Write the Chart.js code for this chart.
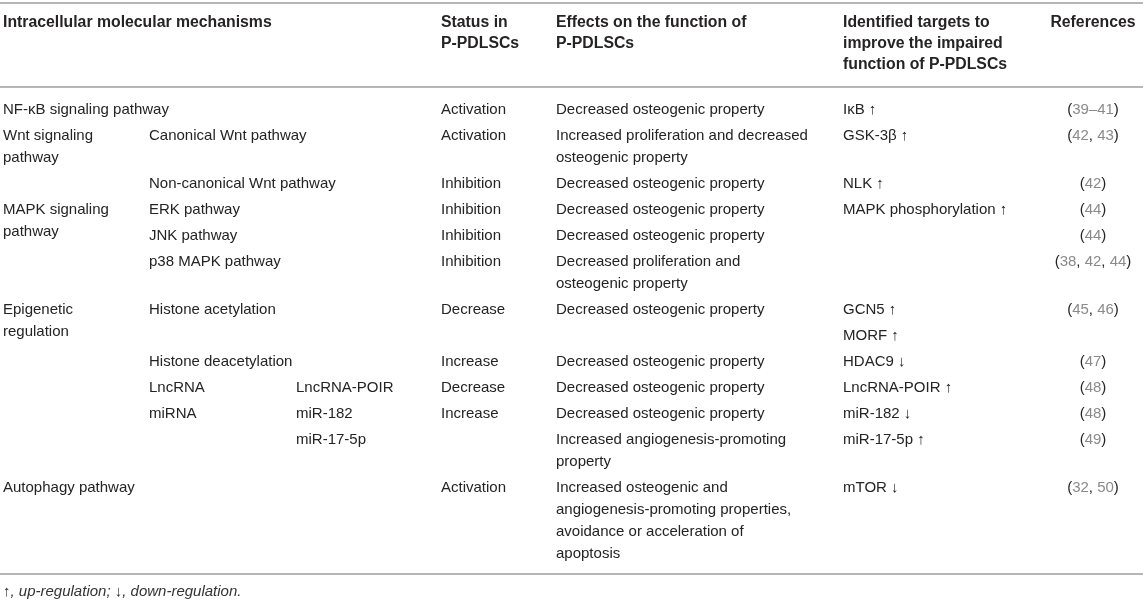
<!DOCTYPE html>
<html>
<head>
<meta charset="utf-8">
<script src="https://cdn.jsdelivr.net/npm/chart.js@4.4.0/dist/chart.umd.min.js"></script>
<style>html,body{margin:0;padding:0;background:#fff}</style>
</head>
<body>
<canvas id="mycanvas" width="1143" height="600"></canvas>
<script>
// table content, one array per column
var headers = [
	'Intracellular molecular mechanisms', '', '',
	'Status in\nP-PDLSCs',
	'Effects on the function of\nP-PDLSCs',
	'Identified targets to\nimprove the impaired\nfunction of P-PDLSCs',
	'References'
];
var mechanism = ['NF-κB signaling pathway', 'Wnt signaling\npathway', '', 'MAPK signaling\npathway', '', '', 'Epigenetic\nregulation', '', '', '', '', '', 'Autophagy pathway'];
var pathway = ['', 'Canonical Wnt pathway', 'Non-canonical Wnt pathway', 'ERK pathway', 'JNK pathway', 'p38 MAPK pathway', 'Histone acetylation', '', 'Histone deacetylation', 'LncRNA', 'miRNA', '', ''];
var subtype = ['', '', '', '', '', '', '', '', '', 'LncRNA-POIR', 'miR-182', 'miR-17-5p', ''];
var cellStatus = ['Activation', 'Activation', 'Inhibition', 'Inhibition', 'Inhibition', 'Inhibition', 'Decrease', '', 'Increase', 'Decrease', 'Increase', '', 'Activation'];
var effects = [
	'Decreased osteogenic property',
	'Increased proliferation and decreased\nosteogenic property',
	'Decreased osteogenic property',
	'Decreased osteogenic property',
	'Decreased osteogenic property',
	'Decreased proliferation and\nosteogenic property',
	'Decreased osteogenic property',
	'',
	'Decreased osteogenic property',
	'Decreased osteogenic property',
	'Decreased osteogenic property',
	'Increased angiogenesis-promoting\nproperty',
	'Increased osteogenic and\nangiogenesis-promoting properties,\navoidance or acceleration of\napoptosis'
];
var targets = ['IκB ↑', 'GSK-3β ↑', 'NLK ↑', 'MAPK phosphorylation ↑', '', '', 'GCN5 ↑', 'MORF ↑', 'HDAC9 ↓', 'LncRNA-POIR ↑', 'miR-182 ↓', 'miR-17-5p ↑', 'mTOR ↓'];
var refs = ['(39–41)', '(42, 43)', '(42)', '(44)', '(44)', '(38, 42, 44)', '(45, 46)', '', '(47)', '(48)', '(48)', '(49)', '(32, 50)'];
var footnote = '↑, up-regulation; ↓, down-regulation.';

// layout
var W = 1143, H = 600;
var colX = [3, 149, 296, 441, 556, 843, 1093];
var topRule = 3, headY = 23, headPitch = 21, headRule = 87;
var firstRow = 110, rowPitch = 26, linePitch = 22;
var textColor = '#262324', refColor = '#8a8a8a', ruleColor = '#b5b5b5';
var bodyFont = '15px "Liberation Sans", Arial, sans-serif';
var headFont = 'bold 15.8px "Liberation Sans", Arial, sans-serif';

var columns = [mechanism, pathway, subtype, cellStatus, effects, targets, refs];

// build one scatter dataset per column (plus header)
var headPoints = [];
headers.forEach(function(h, c) {
	if (!h) return;
	h.split('\n').forEach(function(line, i) {
		headPoints.push({x: colX[c], y: headY + i * headPitch, t: line, c: c});
	});
});

var bodySets = columns.map(function() { return []; });
var y = firstRow;
for (var r = 0; r < cellStatus.length; r++) {
	var maxLines = 1;
	for (var c = 0; c < columns.length; c++) {
		var lines = columns[c][r] ? columns[c][r].split('\n') : [];
		lines.forEach(function(line, i) {
			bodySets[c].push({x: colX[c], y: y + i * linePitch, t: line, c: c});
		});
		// first column cells span rows, so they don't stretch the row
		if (c > 0 && lines.length > maxLines) maxLines = lines.length;
	}
	y += rowPitch + (maxLines - 1) * linePitch;
}
var bottomRule = y - rowPitch + 20;
var footY = bottomRule + 18;

var datasets = [{label: 'header', data: headPoints, bold: true}];
bodySets.forEach(function(d, c) {
	datasets.push({label: 'col' + c, data: d});
});
datasets.push({label: 'foot', data: [{x: colX[0], y: footY, t: footnote, c: -1}]});

function drawRef(ctx, text, cx, cy) {
	var parts = text.match(/[0-9–]+|[^0-9–]+/g);
	var total = ctx.measureText(text).width;
	var x = cx - total / 2;
	ctx.textAlign = 'left';
	parts.forEach(function(p) {
		ctx.fillStyle = /[0-9]/.test(p) ? refColor : textColor;
		ctx.fillText(p, x, cy);
		x += ctx.measureText(p).width;
	});
}

function drawFoot(ctx, text, x, cy) {
	var parts = text.match(/[↑↓]|[^↑↓]+/g);
	ctx.textAlign = 'left';
	parts.forEach(function(p) {
		ctx.font = (/[↑↓]/.test(p) ? '' : 'italic ') + '15px "Liberation Sans", Arial, sans-serif';
		ctx.fillStyle = '#333';
		ctx.fillText(p, x, cy);
		x += ctx.measureText(p).width;
	});
}

var tablePlugin = {
	id: 'tableText',
	afterDatasetsDraw: function(chart) {
		var ctx = chart.ctx;
		var ys = chart.scales.y;
		ctx.save();
		ctx.strokeStyle = ruleColor;
		ctx.lineWidth = 2;
		[topRule, headRule, bottomRule].forEach(function(v) {
			var py = Math.round(ys.getPixelForValue(v));
			ctx.beginPath();
			ctx.moveTo(chart.chartArea.left, py);
			ctx.lineTo(chart.chartArea.right, py);
			ctx.stroke();
		});
		ctx.textBaseline = 'middle';
		chart.data.datasets.forEach(function(ds, di) {
			var meta = chart.getDatasetMeta(di);
			meta.data.forEach(function(el, i) {
				var pt = ds.data[i];
				if (pt.c === -1) {
					drawFoot(ctx, pt.t, el.x, el.y);
					return;
				}
				ctx.font = ds.bold ? headFont : bodyFont;
				ctx.fillStyle = textColor;
				if (pt.c === 6 && !ds.bold) {
					drawRef(ctx, pt.t, el.x, el.y);
				} else if (pt.c === 6) {
					ctx.textAlign = 'center';
					ctx.fillText(pt.t, el.x, el.y);
				} else {
					ctx.textAlign = 'left';
					ctx.fillText(pt.t, el.x, el.y);
				}
			});
		});
		ctx.restore();
	}
};

new Chart(document.getElementById('mycanvas'), {
	type: 'scatter',
	data: {datasets: datasets},
	options: {
		responsive: false,
		animation: false,
		layout: {padding: 0},
		elements: {point: {radius: 0, hoverRadius: 0}},
		scales: {
			x: {type: 'linear', min: 0, max: W, display: false},
			y: {type: 'linear', min: 0, max: H, reverse: true, display: false}
		},
		plugins: {legend: {display: false}, tooltip: {enabled: false}}
	},
	plugins: [tablePlugin]
});
</script>
</body>
</html>
